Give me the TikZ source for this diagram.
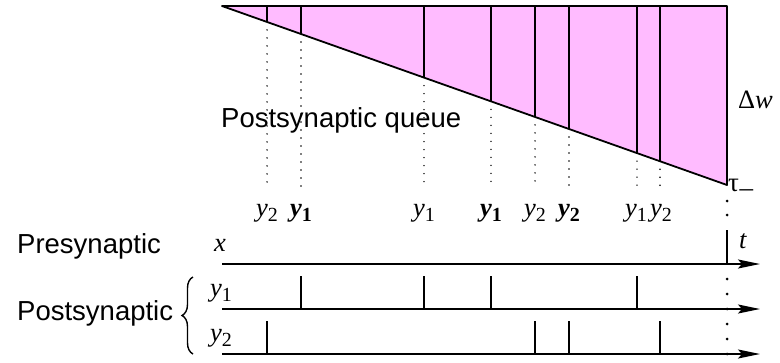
\documentclass[tikz,border=0pt]{standalone}
\usepackage{fontspec}
\setmainfont{Liberation Serif}
\newfontfamily\sansf{Liberation Sans}
\usetikzlibrary{arrows.meta,calc,decorations.pathreplacing}
\definecolor{qpink}{RGB}{255,187,255}
\newcommand\yl[1]{\textit{y}\raisebox{-0.2em}{\fontsize{20}{20}\selectfont #1}}
\newcommand\ylb[1]{\textbf{\textit{y}}\raisebox{-0.2em}{\fontsize{20}{20}\selectfont\bfseries #1}}
\begin{document}
\begin{tikzpicture}[x=1pt,y=-1pt,
  axis/.style={line width=1.8pt,-{Stealth[length=22pt,width=9pt,inset=4pt]}},
  spike/.style={line width=1.4pt},
  qdot/.style={line width=1.6pt,dash pattern=on 0pt off 8pt,line cap=round},
  bigdot/.style={line width=3pt,dash pattern=on 0pt off 15pt,line cap=round},
  sanslab/.style={font=\sansf\fontsize{27.5}{30}\selectfont,inner sep=0pt},
  mlab/.style={font=\fontsize{26.5}{28}\selectfont,inner sep=0pt}]
\useasboundingbox (0,0) rectangle (780,362);
% queue triangle
\coordinate (A) at (222,6);
\coordinate (B) at (727,6);
\coordinate (C) at (727,185);
\fill[qpink] (A)--(B)--(C)--cycle;
\foreach \x in {267,301,424,491,535,569,637,660}{
  \coordinate (t\x) at (\x,6);
  \coordinate (h\x) at (\x,{6+(\x-222)/505*179});
  \coordinate (d\x) at (\x,188);
  \draw[spike] (t\x) -- (h\x);
  \draw[qdot] ($(h\x)+(0,8)$) -- (d\x);
}
\draw[line width=1.8pt,line join=round] (C)--(A)--(B)--cycle;
\node[sanslab,anchor=west] (queue) at (221,120) {Postsynaptic queue};
\node[mlab,anchor=west] (dw) at (738,100) {Δ\textit{w}};
\node[mlab,anchor=base west,font=\fontsize{27}{28}\selectfont] (tau) at (728,191) {τ\kern0.5pt\raisebox{0.12em}{\_}};
% queue labels
\node[mlab,anchor=base] (l267) at (267,216) {\yl{2}};
\node[mlab,anchor=base] (l301) at (301,216) {\ylb{1}};
\node[mlab,anchor=base] (l424) at (424,216) {\yl{1}};
\node[mlab,anchor=base] (l491) at (491,216) {\ylb{1}};
\node[mlab,anchor=base] (l535) at (535,216) {\yl{2}};
\node[mlab,anchor=base] (l569) at (569,216) {\ylb{2}};
\node[mlab,anchor=base] (l637) at (636,216) {\yl{1}};
\node[mlab,anchor=base] (l660) at (661,216) {\yl{2}};
% time axes
\coordinate (x0) at (222,264); \coordinate (x1) at (760,264);
\coordinate (a0) at (222,309); \coordinate (a1) at (760,309);
\coordinate (b0) at (222,354); \coordinate (b1) at (760,354);
\draw[axis] (x0) -- (x1);
\draw[axis] (a0) -- (a1);
\draw[axis] (b0) -- (b1);
\foreach \x in {301,424,491,637}{
  \coordinate (s\x) at (\x,276);
  \coordinate (f\x) at (\x,309);
  \draw[spike] (f\x) -- (s\x);
}
\foreach \x in {267,535,569,660}{
  \coordinate (s\x) at (\x,321);
  \coordinate (f\x) at (\x,354);
  \draw[spike] (f\x) -- (s\x);
}
\coordinate (p0) at (727,264); \coordinate (p1) at (727,230);
\draw[spike] (p0) -- (p1);
\coordinate (q0) at (727,201); \coordinate (q1) at (727,216);
\draw[bigdot,dash pattern=on 0pt off 14pt] (q0) -- (q1);
\coordinate (r0) at (727,279); \coordinate (r1) at (727,355);
\draw[bigdot] (r0) -- (r1);
% labels
\node[sanslab,anchor=base west] (pre) at (17,253) {Presynaptic};
\node[sanslab,anchor=base west] (post) at (17,320) {Postsynaptic};
\draw[line width=1.4pt,decorate,decoration={brace,amplitude=11pt}] (193,354) -- (193,277);
\node[mlab,anchor=base west] (xl) at (214,251) {\textit{x}};
\node[mlab,anchor=base west] (tl) at (739,248) {\textit{t}};
\node[mlab,anchor=base west] (y1l) at (210,296) {\yl{1}};
\node[mlab,anchor=base west] (y2l) at (210,341) {\yl{2}};
\end{tikzpicture}
\end{document}
